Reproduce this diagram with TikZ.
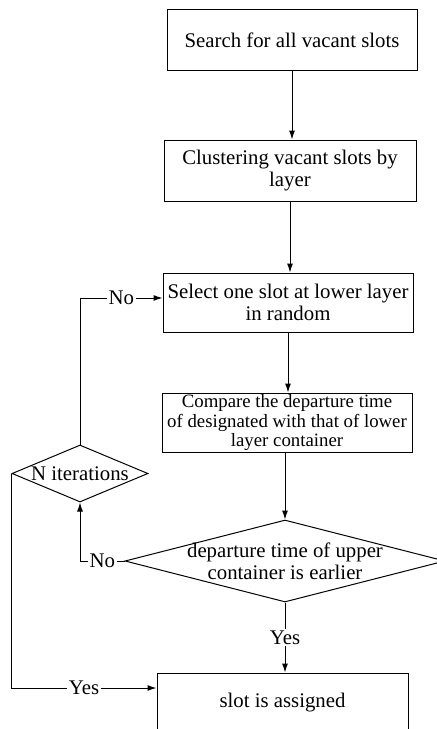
\documentclass[tikz,border=0pt]{standalone}
\usepackage{fontspec}
\setmainfont{Liberation Serif}
\usetikzlibrary{shapes.geometric,arrows.meta}
\begin{document}
\begin{tikzpicture}[x=0.5pt,y=-0.5pt,
  font=\fontsize{10.4}{10.8}\selectfont,
  line width=0.5pt,
  stepbox/.style={draw, rectangle, align=center, inner sep=1pt},
  dia/.style={draw, diamond, inner sep=0pt},
  lab/.style={fill=white, inner sep=1pt},
  arr/.style={-{Latex[length=4.5pt,width=3pt]}}]
\useasboundingbox (0,0) rectangle (437,729);
\fill[white] (0,0) rectangle (437,729);

\node[stepbox, minimum width=125pt, minimum height=30.5pt] (b1) at (292,40) {Search for all vacant slots};
\node[stepbox, minimum width=126pt, minimum height=30.5pt] (b2) at (290,170.5) {Clustering vacant slots by\\layer};
\node[stepbox, minimum width=125pt, minimum height=29.5pt] (b3) at (288,302.5) {Select one slot at lower layer\\in random};
\node[stepbox, inner sep=0pt, font=\fontsize{9.4}{9.9}\selectfont, minimum width=125pt, minimum height=29.5pt] (b4) at (287,422.5) {Compare the departure time\\of designated with that of lower\\layer container};
\node[dia, minimum width=160pt, minimum height=41pt] (d2) at (285,561) {};
\node[align=center, inner sep=0pt] (t2) at (d2.center) {departure time of upper\\container is earlier};
\node[dia, minimum width=68pt, minimum height=28.5pt] (d1) at (80,473.5) {};
\node[inner sep=0pt] (t1) at (d1.center) {N iterations};
\node[stepbox, minimum width=125.5pt, minimum height=30pt] (b5) at (282.5,703) {slot is assigned};

\draw[arr] (b1.south) -- (b1.south |- b2.north);
\draw[arr] (b2.south) -- (b2.south |- b3.north);
\draw[arr] (b3.south) -- (b3.south |- b4.north);
\draw[arr] (b4.south -| d2.north) -- (d2.north);
\draw[arr] (d2.south) -- node[lab]{Yes} (d2.south |- b5.north);
\draw[arr] (d2.west) -- node[lab]{No} (d2.west -| d1.south) -- (d1.south);
\draw[arr] (d1.north) |- node[lab, pos=0.75]{No} ([yshift=2.25pt]b3.west);
\draw[arr] (d1.west) |- node[lab, pos=0.75]{Yes} ([yshift=7.5pt]b5.west);
\end{tikzpicture}
\end{document}
